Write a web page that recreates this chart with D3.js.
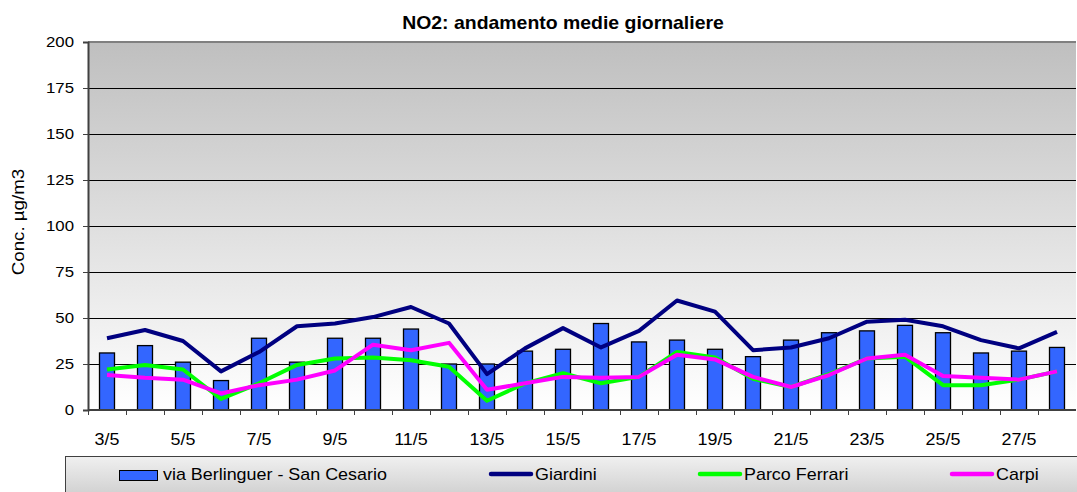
<!DOCTYPE html>
<html><head><meta charset="utf-8">
<script src="https://cdn.jsdelivr.net/npm/d3@7"></script>
<style>body{margin:0;background:#fff}svg{display:block;font-family:"Liberation Sans",Arial,sans-serif}</style>
</head><body><svg id="c" width="1077" height="492"></svg>
<script>
const categories = ["3/5","4/5","5/5","6/5","7/5","8/5","9/5","10/5","11/5","12/5","13/5","14/5","15/5","16/5","17/5","18/5","19/5","20/5","21/5","22/5","23/5","24/5","25/5","26/5","27/5","28/5"];
const berlinguer = [31,35,26,16,39,26,39,39,44,25,25,32,33,47,37,38,33,29,38,42,43,46,42,31,32,34];
const giardini = [39,43.5,37.5,21,31.5,45.5,47,50.5,56,47,19.5,33.5,44.5,34,43,59.5,53.5,32.5,34,39,48,49,45.5,38,33.5,42.5];
const parcoFerrari = [22,24.5,22,6,14.5,24.5,28,28.5,27,23.5,5,14.5,20,14.5,18,31.5,28.5,17,12.5,19.5,28,29,13.5,13.5,16.5,21];
const carpi = [19,17.5,16.5,9,13.5,16.5,21.5,35.5,32.5,36.5,11,14.5,18,17.5,18,30,27.5,18,12.5,19,28,30,18.5,17.5,16.5,21];
const yTicks = [0,25,50,75,100,125,150,175,200];
const seriesNames = ["via Berlinguer - San Cesario","Giardini","Parco Ferrari","Carpi"];

const SX = 1.12; // horizontal text stretch
const svg = d3.select("#c");
const L = 88, T = 42, B = 410, R = 88 + 26*38;
const x = d3.scaleBand().domain(categories).range([L, R]);
const y = d3.scaleLinear().domain([0,200]).range([B, T]);
const defs = svg.append("defs");
const g1 = defs.append("linearGradient").attr("id","bg").attr("x1",0).attr("y1",0).attr("x2",0).attr("y2",1);
g1.append("stop").attr("offset","0%").attr("stop-color","#bfbfbf");
g1.append("stop").attr("offset","100%").attr("stop-color","#ffffff");
const g2 = defs.append("linearGradient").attr("id","lg").attr("x1",0).attr("y1",0).attr("x2",0).attr("y2",1);
g2.append("stop").attr("offset","0%").attr("stop-color","#f0f0f0");
g2.append("stop").attr("offset","100%").attr("stop-color","#cfcfcf");

svg.append("rect").attr("x",L).attr("y",T).attr("width",R-L).attr("height",B-T).attr("fill","url(#bg)");
svg.append("g").selectAll("line").data(yTicks.filter(d=>d>0&&d<200)).join("line")
  .attr("x1",L).attr("x2",R).attr("y1",d=>y(d)+0.5).attr("y2",d=>y(d)+0.5).attr("stroke","#000").attr("stroke-width",1);
svg.append("line").attr("x1",L).attr("x2",R).attr("y1",T).attr("y2",T).attr("stroke","#808080").attr("stroke-width",2);

// y axis
const ya = svg.append("g").attr("transform",`translate(${L},0)`).call(d3.axisLeft(y).tickValues(yTicks).tickSize(5).tickPadding(9));
ya.select(".domain").attr("stroke","#404040").attr("stroke-width",2);
ya.selectAll(".tick line").attr("stroke","#404040");
ya.selectAll("text").attr("font-size",15).attr("fill","#000").attr("font-family","Liberation Sans, Arial, sans-serif")
  .attr("x",-14/SX).attr("transform",`scale(${SX},1)`);

// bars
const bw = 15;
svg.append("g").selectAll("rect").data(berlinguer).join("rect")
  .attr("x",(d,i)=>x(categories[i])+x.bandwidth()/2-bw/2).attr("y",d=>y(d))
  .attr("width",bw).attr("height",d=>B-y(d)).attr("fill","#3366ff").attr("stroke","#000").attr("stroke-width",1.3);

// x axis
const xa = svg.append("g").attr("transform",`translate(0,${B})`);
xa.append("line").attr("x1",L).attr("x2",R).attr("stroke","#404040").attr("stroke-width",2);
xa.selectAll("line.t").data(categories).join("line").attr("class","t")
  .attr("x1",d=>x(d)+0.5).attr("x2",d=>x(d)+0.5).attr("y1",0).attr("y2",5).attr("stroke","#404040");
xa.selectAll("text").data(categories.filter((d,i)=>i%2===0)).join("text")
  .attr("transform",d=>`translate(${x(d)+x.bandwidth()/2},35) scale(${SX},1)`)
  .attr("text-anchor","middle").attr("font-size",16).text(d=>d);

// lines
const line = d3.line().x((d,i)=>x(categories[i])+x.bandwidth()/2).y(d=>y(d));
[[giardini,"#000080"],[parcoFerrari,"#00ff00"],[carpi,"#ff00ff"]].forEach(([data,c])=>{
  svg.append("path").datum(data).attr("d",line).attr("fill","none").attr("stroke",c).attr("stroke-width",4).attr("stroke-linejoin","round");
});

// title
svg.append("text").attr("transform","translate(563,29) scale(1.08,1)").attr("text-anchor","middle").attr("font-size",18).attr("font-weight","bold").text("NO2: andamento medie giornaliere");
// y label
svg.append("text").attr("transform","translate(24,222) rotate(-90) scale(1.1,1)").attr("text-anchor","middle").attr("font-size",17).text("Conc. µg/m3");

// legend
svg.append("rect").attr("x",65.5).attr("y",456.5).attr("width",1020).attr("height",40).attr("fill","url(#lg)").attr("stroke","#404040");
const lx = [119,489,698,950];
const lcol = ["#3366ff","#000080","#00ff00","#ff00ff"];
seriesNames.forEach((n,i)=>{
  if(i===0){
    svg.append("rect").attr("x",lx[0]+0.5).attr("y",470.5).attr("width",38).attr("height",10).attr("fill",lcol[0]).attr("stroke","#000").attr("stroke-width",1);
  } else {
    svg.append("line").attr("x1",lx[i]+2).attr("x2",lx[i]+42).attr("y1",474).attr("y2",474).attr("stroke",lcol[i]).attr("stroke-width",4.5).attr("stroke-linecap","round");
  }
  svg.append("text").attr("transform",`translate(${i===0?lx[0]+44:lx[i]+46},480) scale(${SX},1)`).attr("font-size",16).text(n);
});
</script></body></html>
